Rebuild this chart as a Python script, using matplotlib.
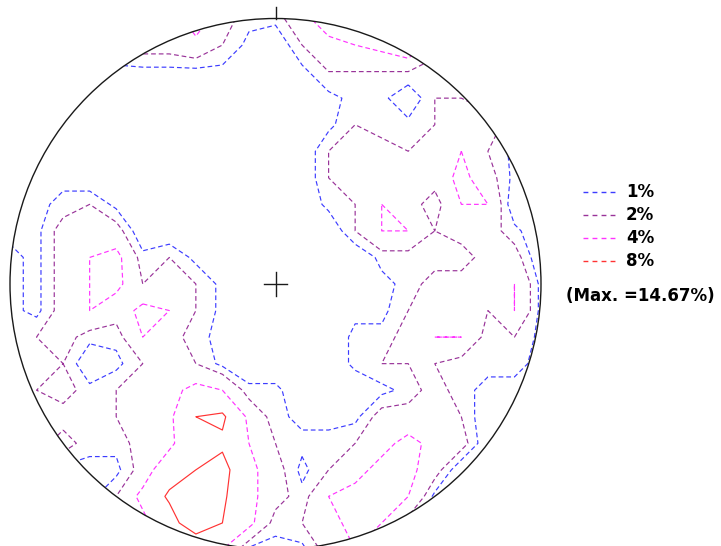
import numpy as np
import matplotlib
matplotlib.use("Agg")
import matplotlib.pyplot as plt
from matplotlib.patches import Circle
from matplotlib.lines import Line2D

# Pole counts inside the 1% counting circle at each node of a 21 x 21 grid
# covering the net (rows run north -> south, columns west -> east).
N_POLES = 150
counts = [
    [2, 2, 2, 2, 3, 4, 4, 8, 4, 2, 2, 5, 8, 8, 8, 4, 3, 2, 2, 2, 2],
    [1, 1, 1, 2, 3, 4, 4, 5, 3, 1, 0, 3, 5, 6, 7, 9, 4, 2, 2, 2, 2],
    [1, 1, 1, 1, 1, 1, 1, 1, 1, 0, 0, 1, 3, 3, 3, 3, 2, 2, 2, 2, 2],
    [1, 1, 1, 1, 0, 0, 0, 0, 0, 0, 0, 0, 1, 2, 2, 0, 3, 3, 2, 2, 2],
    [0, 0, 1, 0, 0, 0, 0, 0, 0, 0, 0, 0, 1, 3, 2, 2, 3, 5, 4, 2, 2],
    [0, 0, 0, 0, 0, 0, 0, 0, 0, 0, 0, 0, 3, 4, 4, 3, 4, 6, 3, 1, 1],
    [0, 0, 1, 0, 0, 0, 0, 0, 0, 0, 0, 0, 3, 4, 5, 4, 4, 7, 4, 1, 0],
    [0, 1, 2, 3, 1, 0, 0, 0, 0, 0, 0, 0, 2, 3, 6, 4, 2, 6, 6, 0, 0],
    [1, 1, 4, 3, 4, 0, 0, 0, 0, 0, 0, 0, 0, 3, 6, 6, 3, 4, 4, 2, 0],
    [2, 1, 4, 6, 7, 2, 3, 1, 0, 0, 0, 0, 0, 0, 2, 2, 2, 2, 4, 4, 0],
    [2, 1, 4, 6, 7, 3, 5, 3, 1, 0, 0, 0, 0, 0, 1, 2, 4, 4, 5, 6, 1],
    [2, 1, 4, 6, 4, 7, 6, 3, 1, 0, 0, 0, 0, 1, 1, 3, 4, 4, 3, 6, 1],
    [2, 3, 4, 2, 2, 6, 4, 2, 1, 0, 0, 0, 0, 2, 2, 4, 6, 6, 2, 3, 1],
    [2, 2, 3, 0, 1, 3, 5, 3, 1, 0, 0, 0, 0, 2, 3, 3, 3, 2, 2, 2, 1],
    [2, 3, 4, 2, 3, 5, 5, 7, 6, 2, 2, 0, 0, 0, 1, 2, 4, 2, 1, 1, 0],
    [2, 2, 2, 2, 3, 3, 5, 12, 13, 5, 2, 1, 1, 1, 4, 4, 4, 3, 0, 0, 0],
    [2, 2, 4, 2, 2, 4, 5, 10, 11, 6, 3, 2, 2, 3, 5, 7, 5, 4, 0, 0, 0],
    [1, 1, 1, 1, 1, 4, 9, 12, 14, 7, 4, 1, 3, 5, 7, 7, 4, 0, 0, 0, 0],
    [1, 1, 1, 1, 3, 7, 13, 22, 13, 7, 4, 2, 6, 7, 7, 6, 1, 0, 0, 0, 0],
    [2, 2, 2, 2, 3, 5, 9, 17, 12, 7, 2, 3, 5, 7, 6, 2, 1, 0, 0, 0, 0],
    [2, 2, 2, 2, 3, 5, 5, 5, 6, 1, 1, 1, 4, 6, 5, 2, 1, 0, 0, 0, 0],
]

levels = [1, 2, 4, 8]
level_labels = ["1%", "2%", "4%", "8%"]
level_colors = ["#3c3cff", "#993399", "#ff33ff", "#ff3333"]
level_styles = [(0, (4, 2.5)), (0, (4, 2.5)), (0, (4, 2.5)), "solid"]

pct = np.asarray(counts, dtype=float) * 100.0 / N_POLES
max_pct = pct.max()

W, H = 721, 546
fig = plt.figure(figsize=(W / 100, H / 100), dpi=100)
fig.patch.set_facecolor("white")

# Net of radius 265.5 px centred at (275.5, 284) px
cx, cy, r = 275.5, 284.0, 265.5
ax = fig.add_axes([(cx - r) / W, 1 - (cy + r) / H, 2 * r / W, 2 * r / H])
ax.set_xlim(-1, 1)
ax.set_ylim(-1, 1)
ax.set_aspect("equal")
ax.axis("off")

net = Circle((0, 0), 1.0, fill=False, edgecolor="#1a1a1a", linewidth=1.0,
             clip_on=False, zorder=5)
ax.add_patch(net)

n = pct.shape[0]
gx = np.linspace(-1, 1, n)
gy = np.linspace(1, -1, n)
GX, GY = np.meshgrid(gx, gy)

# nodes lying exactly on a level are counted inside that level
eps = 1e-6
for lev, col, ls in zip(levels, level_colors, level_styles):
    cs = ax.contour(GX, GY, pct, levels=[lev - eps], colors=[col],
                    linewidths=0.85)
    cs.set_linestyle([ls])
    cs.set_clip_path(net)

# north tick and centre cross
tick = 0.042
ax.plot([0, 0], [1, 1 + tick], color="#1a1a1a", lw=1.0, clip_on=False)
cross = 0.045
ax.plot([-cross, cross], [0, 0], color="#1a1a1a", lw=1.0)
ax.plot([0, 0], [-cross, cross], color="#1a1a1a", lw=1.0)

# key
def fx(px):
    return px / W

def fy(py):
    return 1 - py / H

key_y = [192, 215, 238, 261]
for yy, lab, col in zip(key_y, level_labels, level_colors):
    fig.add_artist(Line2D([fx(583), fx(618)], [fy(yy), fy(yy)], color=col,
                          lw=1.0, linestyle=(0, (3.5, 3.0)),
                          transform=fig.transFigure))
    fig.text(fx(626), fy(yy), lab, ha="left", va="center", fontsize=12,
             fontweight="bold", family="DejaVu Sans", color="black")

fig.text(fx(566), fy(296), "(Max. =%.2f%%)" % max_pct, ha="left", va="center",
         fontsize=12, fontweight="bold", family="DejaVu Sans", color="black")

fig.savefig("out.png", dpi=100)
